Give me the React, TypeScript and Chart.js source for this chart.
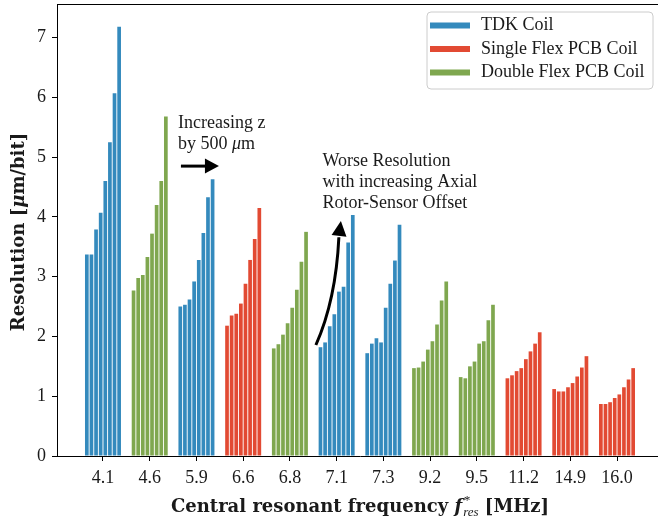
import React, { useEffect, useRef } from 'react';
import { Chart, registerables } from 'chart.js';

Chart.register(...registerables);

// ---------- data ----------
const categories = ['4.1', '4.6', '5.9', '6.6', '6.8', '7.1', '7.3', '9.2', '9.5', '11.2', '14.9', '16.0'];
const coilTypes = ['TDK', 'Double', 'TDK', 'Single', 'Double', 'TDK', 'TDK', 'Double', 'Double', 'Single', 'Single', 'Single'];

const res_4_1 = [3.37, 3.37, 3.79, 4.07, 4.6, 5.25, 6.07, 7.18];
const res_4_6 = [2.77, 2.98, 3.03, 3.33, 3.72, 4.2, 4.6, 5.68];
const res_5_9 = [2.5, 2.53, 2.62, 2.92, 3.28, 3.73, 4.33, 4.63];
const res_6_6 = [2.18, 2.35, 2.38, 2.55, 2.88, 3.28, 3.63, 4.15];
const res_6_8 = [1.8, 1.87, 2.03, 2.22, 2.48, 2.78, 3.25, 3.75];
const res_7_1 = [1.82, 1.9, 2.17, 2.37, 2.75, 2.83, 3.57, 4.03];
const res_7_3 = [1.72, 1.88, 1.97, 1.9, 2.48, 2.88, 3.27, 3.87];
const res_9_2 = [1.47, 1.48, 1.58, 1.78, 1.92, 2.2, 2.6, 2.92];
const res_9_5 = [1.32, 1.3, 1.5, 1.58, 1.88, 1.92, 2.27, 2.53];
const res_11_2 = [1.3, 1.35, 1.42, 1.47, 1.62, 1.75, 1.88, 2.07];
const res_14_9 = [1.12, 1.08, 1.08, 1.15, 1.22, 1.33, 1.48, 1.67];
const res_16_0 = [0.87, 0.87, 0.9, 0.97, 1.03, 1.15, 1.28, 1.47];

const groupValues = [res_4_1, res_4_6, res_5_9, res_6_6, res_6_8, res_7_1, res_7_3, res_9_2, res_9_5, res_11_2, res_14_9, res_16_0];
const yTicks = [0, 1, 2, 3, 4, 5, 6, 7];

const legendKeys = ['TDK', 'Single', 'Double'];
const legendLabels = ['TDK Coil', 'Single Flex PCB Coil', 'Double Flex PCB Coil'];
const colorMap: Record<string, string> = { TDK: '#348ABD', Single: '#E24A33', Double: '#7FA74F' };

const annotation1 = ['Increasing z', 'by 500 '];
const annotation2 = ['Worse Resolution', 'with increasing Axial', 'Rotor-Sensor Offset'];

// ---------- styles ----------
const SERIF = '"Liberation Serif", "DejaVu Serif", serif';
const BOLDSERIF = '"DejaVu Serif", "Liberation Serif", serif';
const FS = 18;
const TEXT = '#1a1a1a';

const offsetsPerGroup = 8;
const datasets = Array.from({ length: offsetsPerGroup }, (_, i) => ({
  label: `offset ${i + 1}`,
  data: categories.map((_, k) => ({ x: k, y: groupValues[k][i] })),
  backgroundColor: coilTypes.map((t) => colorMap[t]),
  borderWidth: 0,
  categoryPercentage: 0.79,
  barPercentage: 0.8,
}));

function drawArrowHead(ctx: CanvasRenderingContext2D, tipX: number, tipY: number, angle: number, len: number, half: number) {
  ctx.save();
  ctx.translate(tipX, tipY);
  ctx.rotate(angle);
  ctx.beginPath();
  ctx.moveTo(0, 0);
  ctx.lineTo(-len, -half);
  ctx.lineTo(-len, half);
  ctx.closePath();
  ctx.fill();
  ctx.restore();
}

const decorPlugin = {
  id: 'decor',
  afterDraw(chart: any) {
    const ctx: CanvasRenderingContext2D = chart.ctx;
    const { left, right, top, bottom } = chart.chartArea;
    const xs = chart.scales.x;
    const ys = chart.scales.y;
    ctx.save();

    // top spine
    ctx.strokeStyle = '#000';
    ctx.lineWidth = 1;
    ctx.beginPath();
    ctx.moveTo(left, top + 0.5);
    ctx.lineTo(right, top + 0.5);
    ctx.stroke();

    // legend
    const bx = 427, by = 12, bw = 226, bh = 77, r = 4;
    ctx.beginPath();
    ctx.moveTo(bx + r, by);
    ctx.arcTo(bx + bw, by, bx + bw, by + bh, r);
    ctx.arcTo(bx + bw, by + bh, bx, by + bh, r);
    ctx.arcTo(bx, by + bh, bx, by, r);
    ctx.arcTo(bx, by, bx + bw, by, r);
    ctx.closePath();
    ctx.fillStyle = 'rgba(255,255,255,0.85)';
    ctx.fill();
    ctx.strokeStyle = '#cccccc';
    ctx.stroke();
    ctx.font = `${FS}px ${SERIF}`;
    ctx.textBaseline = 'middle';
    ctx.textAlign = 'left';
    legendKeys.forEach((k, i) => {
      const cy = 25.5 + i * 23.5;
      ctx.fillStyle = colorMap[k];
      ctx.fillRect(430, cy - 3, 40, 6);
      ctx.fillStyle = TEXT;
      ctx.fillText(legendLabels[i], 481, cy);
    });

    // annotation 1
    ctx.fillStyle = TEXT;
    ctx.textBaseline = 'alphabetic';
    const a1x = xs.getPixelForValue(1.604);
    ctx.fillText(annotation1[0], a1x, ys.getPixelForValue(5.49));
    const y2 = ys.getPixelForValue(5.14);
    ctx.fillText(annotation1[1], a1x, y2);
    const w1 = ctx.measureText(annotation1[1]).width;
    ctx.font = `italic ${FS}px ${SERIF}`;
    ctx.fillText('\u03bc', a1x + w1, y2);
    const wmu = ctx.measureText('\u03bc').width;
    ctx.font = `${FS}px ${SERIF}`;
    ctx.fillText('m', a1x + w1 + wmu, y2);

    // arrow 1
    ctx.fillStyle = '#000';
    ctx.strokeStyle = '#000';
    const ay = ys.getPixelForValue(4.85);
    const ax0 = xs.getPixelForValue(1.668);
    const axTip = xs.getPixelForValue(2.481);
    ctx.lineWidth = 3;
    ctx.beginPath();
    ctx.moveTo(ax0, ay);
    ctx.lineTo(axTip - 12, ay);
    ctx.stroke();
    drawArrowHead(ctx, axTip, ay, 0, 14, 7.5);

    // annotation 2
    ctx.fillStyle = TEXT;
    ctx.font = `${FS}px ${SERIF}`;
    const a2x = xs.getPixelForValue(4.695);
    const a2y = [4.857, 4.496, 4.144];
    annotation2.forEach((t, i) => ctx.fillText(t, a2x, ys.getPixelForValue(a2y[i])));

    // curved arrow 2
    const p0x = xs.getPixelForValue(4.556), p0y = ys.getPixelForValue(1.857);
    const p1x = xs.getPixelForValue(4.984), p1y = ys.getPixelForValue(2.61);
    const p2x = xs.getPixelForValue(5.048), p2y = ys.getPixelForValue(3.66);
    const tipx = xs.getPixelForValue(5.091), tipy = ys.getPixelForValue(3.932);
    ctx.strokeStyle = '#000';
    ctx.lineWidth = 3;
    ctx.beginPath();
    ctx.moveTo(p0x, p0y);
    ctx.quadraticCurveTo(p1x, p1y, p2x, p2y);
    ctx.stroke();
    ctx.fillStyle = '#000';
    drawArrowHead(ctx, tipx, tipy, Math.atan2(tipy - p2y, tipx - p2x), 15, 7.5);

    // x title
    const base = 512;
    const partA = 'Central resonant frequency ';
    const partC = ' [MHz]';
    const bold = `bold 18px ${BOLDSERIF}`;
    const fF = `bold italic 18px ${BOLDSERIF}`;
    const small = `italic 13px ${SERIF}`;
    ctx.font = bold;
    const wA = ctx.measureText(partA).width;
    const wC = ctx.measureText(partC).width;
    ctx.font = fF;
    const wf = ctx.measureText('f').width;
    ctx.font = small;
    const wsub = ctx.measureText('res').width;
    const total = wA + wf + 1 + wsub + wC;
    let cx = (left + right) / 2 - total / 2;
    ctx.fillStyle = TEXT;
    ctx.font = bold;
    ctx.fillText(partA, cx, base);
    cx += wA;
    ctx.font = fF;
    ctx.fillText('f', cx, base);
    cx += wf + 1;
    ctx.font = small;
    ctx.fillText('*', cx, base - 8);
    ctx.fillText('res', cx, base + 4);
    cx += wsub;
    ctx.font = bold;
    ctx.fillText(partC, cx, base);

    // y title (rotated)
    ctx.save();
    ctx.translate(24, (top + bottom) / 2 + 2);
    ctx.rotate(-Math.PI / 2);
    const yA = 'Resolution [';
    const yB = '\u03bc';
    const yC = 'm/bit]';
    ctx.font = bold;
    const wyA = ctx.measureText(yA).width;
    const wyC = ctx.measureText(yC).width;
    ctx.font = fF;
    const wyB = ctx.measureText(yB).width;
    let tx = -(wyA + wyB + wyC) / 2;
    ctx.font = bold;
    ctx.fillText(yA, tx, 0);
    tx += wyA;
    ctx.font = fF;
    ctx.fillText(yB, tx, 0);
    tx += wyB;
    ctx.font = bold;
    ctx.fillText(yC, tx, 0);
    ctx.restore();

    ctx.restore();
  },
};

export default function App() {
  const ref = useRef<HTMLCanvasElement>(null);
  useEffect(() => {
    if (!ref.current) return;
    const chart = new Chart(ref.current, {
      type: 'bar',
      data: { datasets: datasets as any },
      options: {
        responsive: false,
        animation: false,
        devicePixelRatio: 1,
        layout: { padding: { top: 4, right: 7, left: 0, bottom: 0 } },
        plugins: { legend: { display: false }, tooltip: { enabled: false } },
        scales: {
          x: {
            type: 'linear',
            offset: false,
            min: -0.984,
            max: 11.984,
            afterBuildTicks: (axis: any) => {
              axis.ticks = categories.map((_, i) => ({ value: i }));
            },
            afterFit: (s: any) => {
              s.height = 67;
              s.paddingLeft = 0;
              s.paddingRight = 0;
            },
            grid: { offset: false, drawOnChartArea: false, drawTicks: true, tickLength: 5, tickColor: '#000', tickWidth: 1 },
            border: { display: true, color: '#000', width: 1 },
            ticks: {
              autoSkip: false,
              maxRotation: 0,
              padding: 6,
              color: TEXT,
              font: { family: SERIF, size: FS },
              callback: (v: any) => categories[Math.round(Number(v))] ?? '',
            },
          },
          y: {
            type: 'linear',
            min: 0,
            max: 7.562,
            afterBuildTicks: (axis: any) => {
              axis.ticks = yTicks.map((v) => ({ value: v }));
            },
            afterFit: (s: any) => {
              s.width = 57;
              s.paddingTop = 0;
              s.paddingBottom = 0;
            },
            grid: { drawOnChartArea: false, drawTicks: true, tickLength: 5, tickColor: '#000', tickWidth: 1 },
            border: { display: true, color: '#000', width: 1 },
            ticks: {
              padding: 6,
              color: TEXT,
              font: { family: SERIF, size: FS },
              callback: (v: any) => String(v),
            },
          },
        },
      },
      plugins: [decorPlugin],
    });
    return () => chart.destroy();
  }, []);
  return (
    <div style={{ position: 'absolute', left: 0, top: 0, width: 658, height: 523, overflow: 'hidden', background: '#fff' }}>
      <canvas ref={ref} width={670} height={523} style={{ display: 'block', width: 670, height: 523 }} />
    </div>
  );
}
